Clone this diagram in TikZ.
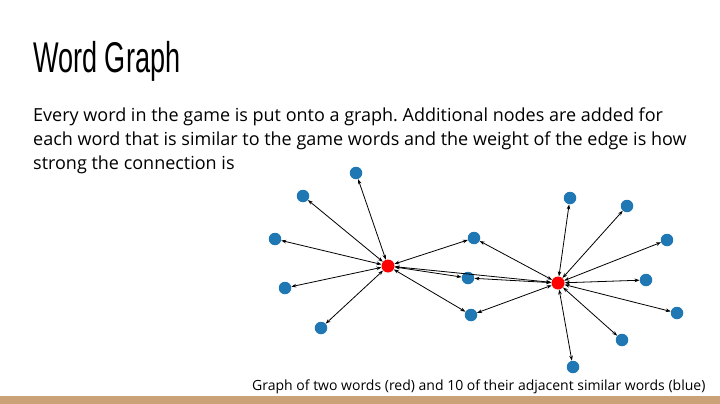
\documentclass[tikz,border=0pt]{standalone}
\usepackage{fontspec}
\setmainfont{Open Sans}
\newfontfamily\titlefont[FakeStretch=0.63]{Liberation Sans}
\usetikzlibrary{arrows.meta}
\definecolor{nodeblue}{RGB}{31,119,180}
\definecolor{barbrown}{RGB}{203,161,120}
\def\ux{1pt}
\def\uy{-1pt}
\frenchspacing

\begin{document}
\begin{tikzpicture}[x=\ux,y=\uy]
		\tikzset{
			word/.style={circle, fill=#1, inner sep=0pt, minimum size=13pt},
			game/.style={word=red},
			similar/.style={word=nodeblue, minimum size=12.5pt},
			link/.style={{Stealth[length=5pt,width=3.6pt]}-{Stealth[length=5pt,width=3.6pt]}, line width=0.8pt},
			body/.style={anchor=base west, inner sep=0pt, font=\fontsize{18}{24}\selectfont},
		}
		\useasboundingbox[fill=white] (0,0) rectangle (720,404);
		\fill[barbrown] (0,396) rectangle (720,404);

		% text of the slide
		\node[anchor=base west, inner sep=0pt, font=\titlefont\fontsize{43}{43}\selectfont] (title) at (33,73) {Word Graph};
		\node[body] (line1) at (33,121) {Every word in the game is put onto a graph. Additional nodes are added for};
		\node[body] (line2) at (33,145) {each word that is similar to the game words and the weight of the edge is how};
		\node[body] (line3) at (33,169) {strong the connection is};
		\node[anchor=base west, inner sep=0pt, font=\fontsize{14}{16}\selectfont] (caption) at (252,390) {Graph of two words (red) and 10 of their adjacent similar words (blue)};

		% the two game words
		\node[game] (w1) at (388,266) {};
		\node[game] (w2) at (558,283) {};

		% similar words
		\foreach \name/\x/\y in {a1/356/173, a2/303/196, a3/275/239, a4/285/288, a5/321/328,
			m1/474/238, m2/468/278, m3/471/315,
			b1/570/198, b2/627/206, b3/667/240, b4/646/280, b5/677/313, b6/622/340, b7/573/367}{
			\node[similar] (\name) at (\x,\y) {};
		}

		\foreach \n in {a1,a2,a3,a4,a5,m1,m2,m3,w2}{
			\draw[link] (w1) -- (\n);
		}
		\foreach \n in {b1,b2,b3,b4,b5,b6,b7,m1,m2,m3}{
			\draw[link] (w2) -- (\n);
		}

\end{tikzpicture}
\end{document}
